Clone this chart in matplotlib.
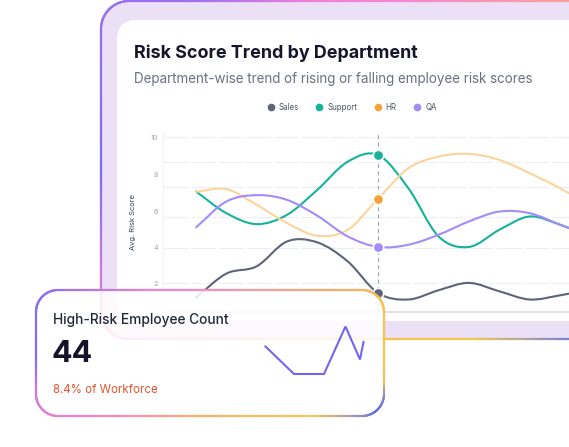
import matplotlib
matplotlib.use("Agg")
import matplotlib.pyplot as plt
import numpy as np
from matplotlib.collections import LineCollection
from matplotlib.colors import to_rgb
from matplotlib.lines import Line2D
from matplotlib.patches import FancyBboxPatch, PathPatch
from matplotlib.path import Path

plt.rcParams["font.family"] = ["Inter", "DejaVu Sans"]

W, H = 569, 447

# chart data
departments = ["Sales", "Support", "HR", "QA"]
line_colors = ["#5d6479", "#14b39a", "#fdd39c", "#a48bfa"]
dot_colors = ["#5d6479", "#14b39a", "#f6a23b", "#a48bfa"]
sales = [1.26, 2.57, 2.97, 4.33, 4.28, 3.24, 1.51, 1.15, 1.66, 2.06, 1.60, 1.15, 1.38, 1.70]
support = [7.07, 5.88, 5.28, 5.79, 7.16, 8.70, 9.07, 7.25, 4.60, 4.03, 4.97, 5.70, 5.25, 4.60]
hr = [7.05, 7.20, 6.34, 5.34, 4.64, 4.97, 6.67, 8.34, 8.98, 9.13, 8.80, 8.07, 7.25, 6.30]
qa = [5.10, 6.52, 6.87, 6.61, 5.74, 4.61, 4.03, 4.15, 4.70, 5.43, 5.97, 5.88, 5.25, 4.60]
hover_index = 6
y_ticks = [2, 4, 6, 8, 10]
grid_levels = [10.07, 8.67, 7.3, 5.65, 3.96, 2.04]

title = "Risk Score Trend by Department"
subtitle = "Department-wise trend of rising or falling employee risk scores"

card_title = "High-Risk Employee Count"
card_value = "44"
card_note = "8.4% of Workforce"
spark_x = [0, 28.5, 58.5, 80, 94.5, 98]
spark_y = [27.5, 0, 0, 47.5, 14.5, 32]

# border gradients: (normalised angle in degrees, colour)
outer_stops = [(-180, "#7a6cf4"), (-135, "#f07ed8"), (-90, "#f6c24e"), (-64, "#f2c850"),
               (-55, "#b0a4a0"), (-45, "#5a6aef"), (20, "#f6c050"), (49, "#f8a09c"),
               (75, "#f58ad0"), (100, "#ef7edb"), (122, "#a070f0"), (180, "#7a6cf4")]
card_stops = [(-180, "#7d6cf5"), (-145, "#d978e2"), (-120, "#f08cc0"), (-95, "#f6b070"),
              (-60, "#f5ca50"), (-52, "#b0a6a0"), (-45, "#5a6aef"), (-35, "#8d88c8"),
              (-25, "#eec455"), (0, "#f4c84c"), (40, "#f6c050"), (55, "#f8aa6a"),
              (77, "#f49aa8"), (110, "#ee80d8"), (135, "#8a6ff2"), (180, "#7d6cf5")]


def px_box(x0, y0, x1, y1):
    return [x0 / W, 1 - y1 / H, (x1 - x0) / W, (y1 - y0) / H]


def smooth_path(x, y):
    # catmull-rom through the points, as cubic beziers
    x = np.asarray(x, float)
    y = np.asarray(y, float)
    h = np.diff(x)
    t = np.empty_like(y)
    t[1:-1] = (y[2:] - y[:-2]) / (x[2:] - x[:-2])
    t[0] = (y[1] - y[0]) / h[0]
    t[-1] = (y[-1] - y[-2]) / h[-1]
    verts = [(x[0], y[0])]
    codes = [Path.MOVETO]
    for i in range(len(x) - 1):
        d = h[i] / 3
        verts += [(x[i] + d, y[i] + d * t[i]), (x[i + 1] - d, y[i + 1] - d * t[i + 1]), (x[i + 1], y[i + 1])]
        codes += [Path.CURVE4] * 3
    return Path(verts, codes)


def rounded_outline(x0, y0, x1, y1, r, n=40):
    pts = []
    for cx, cy, a0 in [(x1 - r, y0 + r, -90), (x1 - r, y1 - r, 0), (x0 + r, y1 - r, 90), (x0 + r, y0 + r, 180)]:
        a = np.radians(np.linspace(a0, a0 + 90, n))
        pts.append(np.column_stack([cx + r * np.cos(a), cy + r * np.sin(a)]))
    pts = np.vstack(pts + [pts[0][:1]])
    dense = [pts[0]]
    for a, b in zip(pts[:-1], pts[1:]):
        k = max(1, int(np.hypot(*(b - a)) / 2))
        for j in range(1, k + 1):
            dense.append(a + (b - a) * j / k)
    return np.array(dense)


def gradient_border(ax, x0, y0, x1, y1, r, stops, lw=1.6, z=5):
    pts = rounded_outline(x0, y0, x1, y1, r)
    segs = np.stack([pts[:-1], pts[1:]], axis=1)
    mid = segs.mean(axis=1)
    cx, cy = (x0 + x1) / 2, (y0 + y1) / 2
    phi = np.degrees(np.arctan2(-(mid[:, 1] - cy) / ((y1 - y0) / 2), (mid[:, 0] - cx) / ((x1 - x0) / 2)))
    ang = [a for a, _ in stops]
    rgb = np.array([to_rgb(c) for _, c in stops])
    cols = np.column_stack([np.interp(phi, ang, rgb[:, k]) for k in range(3)])
    ax.add_collection(LineCollection(segs, colors=cols, linewidths=lw, capstyle="round", zorder=z))


fig = plt.figure(figsize=(W / 100, H / 100), dpi=100)
fig.patch.set_facecolor("white")

# background panels
bg = fig.add_axes([0, 0, 1, 1], zorder=0)
bg.set_xlim(0, W)
bg.set_ylim(H, 0)
bg.axis("off")
bg.add_patch(FancyBboxPatch((101, 1), 499, 338, boxstyle="round,pad=0,rounding_size=28",
                            fc="#ebe0f5", ec="none", zorder=1))
bg.add_patch(FancyBboxPatch((117, 20), 540, 301, boxstyle="round,pad=0,rounding_size=20",
                            fc="white", ec="none", zorder=2))
gradient_border(bg, 101, 1, 600, 339, 28, outer_stops, z=3)

fig.text(134 / W, 1 - 57.5 / H, title, fontsize=12.9, fontweight="bold", color="#17152c", va="baseline")
fig.text(134 / W, 1 - 83.3 / H, subtitle, fontsize=9.7, color="#6b7280", va="baseline")

# line chart
series = [sales, support, hr, qa]
points = np.arange(len(sales))
step = (378 - 196) / hover_index
ax = fig.add_axes(px_box(163, 132, 569, 312), zorder=1)
ax.set_facecolor("none")
ax.set_xlim(-(196 - 163) / step, (569 - 196) / step)
ax.set_ylim((320.5 - 312) / 18.25, (320.5 - 132) / 18.25)
for lvl in grid_levels:
    ax.axhline(lvl, color="#eceef3", lw=0.8, dashes=(22, 3), zorder=0)
for vals, c in zip(series, line_colors):
    ax.add_patch(PathPatch(smooth_path(points, vals), fill=False, ec=c, lw=1.5, capstyle="round", zorder=2))
ax.axvline(points[hover_index], color="#9ca3af", lw=0.8, dashes=(3.6, 2.9), zorder=1)
for vals, c in zip(series, dot_colors):
    ax.plot(points[hover_index], vals[hover_index], "o", ms=7.5, mfc=c, mec="white", mew=1.2,
            zorder=4, clip_on=False)
ax.set_yticks(y_ticks)
ax.set_xticks([])
ax.tick_params(axis="y", length=0, pad=3.5, labelsize=5.3, labelcolor="#a0a4ae")
ax.set_ylabel("Avg. Risk Score", fontsize=5.4, color="#374151")
ax.yaxis.set_label_coords(-(163 - 136) / 406, 0.5)
for side in ["top", "right"]:
    ax.spines[side].set_visible(False)
ax.spines["left"].set_color("#f1f2f5")
ax.spines["bottom"].set_color("#d9dce1")
ax.spines["bottom"].set_linewidth(1.2)

handles = [Line2D([], [], ls="", marker="o", ms=4.5, color=c) for c in dot_colors]
fig.legend(handles, departments, loc="center", bbox_to_anchor=(352 / W, 1 - 107 / H), ncol=4,
           frameon=False, fontsize=5.7, labelcolor="#4b5563", handlelength=0.8, handletextpad=0.6,
           columnspacing=2.2)

# overlay stat card
fg = fig.add_axes([0, 0, 1, 1], zorder=2)
fg.set_xlim(0, W)
fg.set_ylim(H, 0)
fg.axis("off")
fg.add_patch(FancyBboxPatch((36, 290), 348, 126, boxstyle="round,pad=0,rounding_size=22",
                            fc="white", alpha=0.86, ec="none", zorder=1))
gradient_border(fg, 36, 290, 384, 416, 22, card_stops, z=3)
fg.text(53, 324, card_title, fontsize=9.9, fontweight="medium", color="#1f2937", va="baseline")
fg.text(52, 362.5, card_value, fontsize=22, fontweight="bold", color="#15132a", va="baseline")
fg.text(53, 393, card_note, fontsize=8.3, color="#e5532d", va="baseline")

sp = fig.add_axes(px_box(265.5, 326.5, 363.5, 374), zorder=3)
sp.set_xlim(0, 98)
sp.set_ylim(0, 47.5)
sp.axis("off")
sp.plot(spark_x, spark_y, color="#7464f4", lw=1.5, clip_on=False, solid_joinstyle="miter")

fig.savefig("out.png", dpi=100)
